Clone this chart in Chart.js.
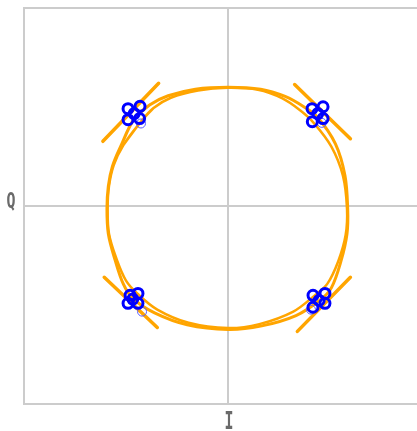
<!DOCTYPE html>
<html>
<head>
<meta charset="utf-8">
<script src="https://cdn.jsdelivr.net/npm/chart.js@4"></script>
<style>
  html, body { margin: 0; padding: 0; background: #ffffff; overflow: hidden; }
  #wrap { width: 440px; height: 431px; }
</style>
</head>
<body>
<div id="wrap"><canvas id="iq" width="440" height="431"></canvas></div>
<script>
// Axis range (both axes) and the single grid line at zero
const axisRange = [-1.5, 1.5];
const gridTicks = [0];
const axisNames = { x: 'I', y: 'Q' };

// Received QPSK symbols, I and Q
const symbolsI = [-0.735, -0.647, -0.735, -0.650, -0.690,
                   0.618,  0.699,  0.620,  0.699,  0.660,
                  -0.720, -0.662, -0.735, -0.662, -0.700,
                   0.625,  0.713,  0.625,  0.713,  0.670];
const symbolsQ = [ 0.737,  0.755,  0.654,  0.662,  0.700,
                   0.737,  0.752,  0.639,  0.662,  0.700,
                  -0.677, -0.662, -0.737, -0.737, -0.705,
                  -0.677, -0.662, -0.767, -0.737, -0.715];
// Faint (weak) symbol samples
const faintI = [-0.640, 0.690, -0.632, 0.610];
const faintQ = [ 0.625, 0.630, -0.800, -0.785];

// Signal trajectory around the constellation, two passes (closed loops,
// the first points are repeated at the end so the joint stays smooth)
const loopOuter = [
  [-0.79,0.45],[-0.69,0.66],[-0.574,0.767],[-0.44,0.835],[-0.24,0.885],[0.00,0.90],
  [0.24,0.885],[0.42,0.83],[0.56,0.75],[0.66,0.67],[0.79,0.47],[0.86,0.23],
  [0.88,-0.02],[0.875,-0.21],[0.83,-0.42],[0.76,-0.62],[0.68,-0.71],[0.50,-0.83],
  [0.24,-0.91],[0.00,-0.935],[-0.30,-0.90],[-0.54,-0.81],[-0.70,-0.70],[-0.77,-0.59],
  [-0.83,-0.41],[-0.88,-0.21],[-0.89,-0.02],[-0.88,0.15],[-0.85,0.30],[-0.79,0.45],
  [-0.69,0.66],[-0.574,0.767]
];
const loopInner = [
  [-0.77,0.46],[-0.647,0.63],[-0.55,0.74],[-0.42,0.82],[-0.22,0.875],[0.00,0.895],
  [0.22,0.88],[0.40,0.815],[0.53,0.725],[0.63,0.63],[0.76,0.45],[0.845,0.23],
  [0.875,-0.02],[0.865,-0.22],[0.81,-0.42],[0.73,-0.59],[0.64,-0.675],[0.48,-0.80],
  [0.23,-0.895],[0.00,-0.925],[-0.29,-0.885],[-0.52,-0.785],[-0.665,-0.665],[-0.75,-0.565],
  [-0.82,-0.40],[-0.875,-0.21],[-0.885,-0.02],[-0.875,0.15],[-0.84,0.31],[-0.77,0.46],
  [-0.647,0.63],[-0.55,0.74]
];
// Short tangential strokes through each symbol
const strokeTL = [[-0.92,0.49],[-0.51,0.93]];
const strokeTR = [[0.49,0.92],[0.90,0.51]];
const strokeBL = [[-0.91,-0.54],[-0.52,-0.92]];
const strokeBR = [[0.90,-0.54],[0.51,-0.95]];

const orange = '#ffa500';
const toXY = arr => arr.map(p => ({ x: p[0], y: p[1] }));

function pathSet(arr, width, tension) {
  return {
    type: 'scatter',
    data: toXY(arr),
    showLine: true,
    borderColor: orange,
    backgroundColor: orange,
    borderWidth: width,
    borderCapStyle: 'round',
    tension: tension,
    pointRadius: 0
  };
}

const datasets = [
  {
    type: 'scatter',
    data: symbolsI.map((v, i) => ({ x: v, y: symbolsQ[i] })),
    pointStyle: 'circle',
    pointRadius: 5,
    pointBorderWidth: 3,
    pointBorderColor: '#0000ff',
    pointBackgroundColor: 'rgba(0,0,0,0)',
    showLine: false
  },
  {
    type: 'scatter',
    data: faintI.map((v, i) => ({ x: v, y: faintQ[i] })),
    pointStyle: 'circle',
    pointRadius: 4.5,
    pointBorderWidth: 1,
    pointBorderColor: '#5a5aff',
    pointBackgroundColor: 'rgba(0,0,0,0)',
    showLine: false
  },
  pathSet(strokeTL, 3.5, 0), pathSet(strokeTR, 3.5, 0),
  pathSet(strokeBL, 3.5, 0), pathSet(strokeBR, 3.5, 0),
  pathSet(loopOuter, 3, 0.35),
  pathSet(loopInner, 2.5, 0.35)
];

// Frame around the plot area and the unrotated axis names
const framePlugin = {
  id: 'frameAndNames',
  beforeDatasetsDraw(chart) {
    const a = chart.chartArea, ctx = chart.ctx;
    ctx.save();
    ctx.strokeStyle = '#cccccc';
    ctx.lineWidth = 2;
    ctx.strokeRect(a.left, a.top, a.right - a.left, a.bottom - a.top);
    ctx.restore();
  },
  afterDraw(chart) {
    const ctx = chart.ctx;
    const xs = chart.scales.x, ys = chart.scales.y;
    ctx.save();
    ctx.fillStyle = '#6a6a6a';
    ctx.font = 'bold 24px "DejaVu Sans Mono"';
    ctx.textAlign = 'center';
    ctx.textBaseline = 'alphabetic';
    // I under the x axis
    ctx.save();
    ctx.translate(xs.getPixelForValue(0) + 1, 429);
    ctx.scale(0.62, 1);
    ctx.fillText(axisNames.x, 0, 0);
    ctx.restore();
    // Q left of the y axis
    ctx.save();
    ctx.translate(11, ys.getPixelForValue(0) + 2);
    ctx.scale(0.62, 0.92);
    ctx.fillText(axisNames.y, 0, 0);
    ctx.restore();
    ctx.restore();
  }
};

const zeroGrid = {
  min: axisRange[0],
  max: axisRange[1],
  afterBuildTicks: s => { s.ticks = gridTicks.map(v => ({ value: v })); },
  ticks: { display: false },
  grid: { color: '#cccccc', lineWidth: 2, drawTicks: false },
  border: { display: false }
};

new Chart(document.getElementById('iq'), {
  type: 'scatter',
  data: { datasets },
  options: {
    responsive: false,
    animation: false,
    layout: { padding: { top: 5, right: 8, left: 0, bottom: 0 } },
    plugins: { legend: { display: false }, tooltip: { enabled: false } },
    scales: {
      x: Object.assign({}, zeroGrid, { afterFit: s => { s.height = 27; } }),
      y: Object.assign({}, zeroGrid, { afterFit: s => { s.width = 24; } })
    }
  },
  plugins: [framePlugin]
});
</script>
</body>
</html>
